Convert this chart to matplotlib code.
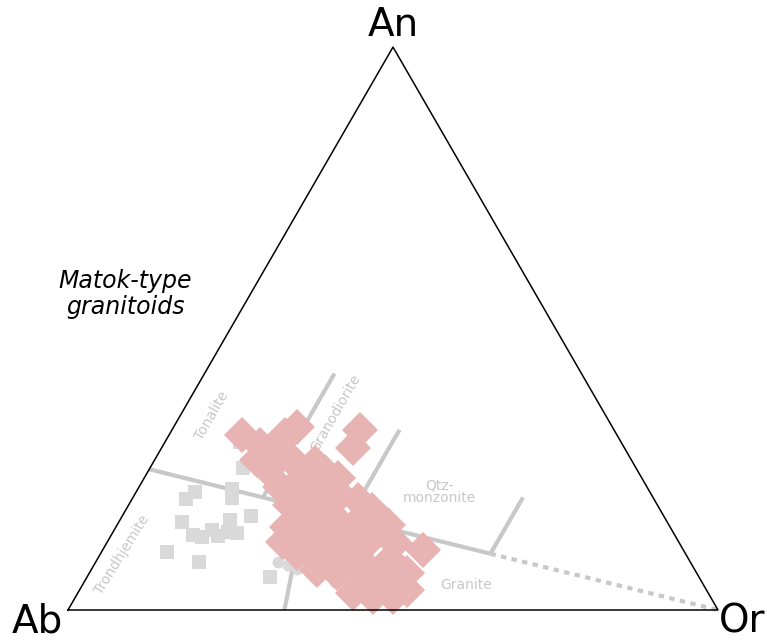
import numpy as np
import matplotlib.pyplot as plt

# ternary data, percent (An, Or); Ab = 100 - An - Or
sq_an = [29.8, 25.2, 21.0, 19.7, 21.5, 19.9, 16.7, 15.6, 13.3, 13.0, 14.2, 13.1,
         16.0, 13.9, 13.7, 10.3, 8.5, 5.9]
sq_or = [11.6, 14.3, 9.0, 8.3, 14.5, 15.3, 19.8, 9.7, 12.6, 14.1, 15.1, 16.5,
         16.9, 17.7, 19.2, 10.1, 15.9, 28.1]

ci_an = [8.5, 8.0, 7.3, 15.1, 5.0]
ci_or = [28.1, 29.8, 31.6, 25.4, 38.6]

mt_an = [31.1, 32.5, 32.0, 28.8, 29.3, 29.7, 31.1, 26.6, 24.9, 26.6, 23.4, 24.5,
         24.9, 21.9, 19.5, 15.1, 10.7, 14.7, 12.1, 10.1, 7.1, 3.0, 2.3, 2.3,
         3.6, 6.6, 8.9, 4.8, 6.6, 10.1, 12.4, 16.0, 16.0, 13.7, 16.0, 18.3,
         21.3, 21.3, 20.4, 18.7, 11.5, 13.3, 8.9, 6.2, 12.4, 9.8, 9.8, 6.2,
         5.3, 23.1, 27.5, 18.7, 17.8, 8.9, 26.1, 11.9]
mt_or = [11.2, 19.0, 28.9, 29.4, 14.9, 17.5, 17.8, 15.8, 18.3, 21.2, 29.8, 27.3,
         24.5, 21.7, 34.9, 41.7, 49.3, 26.4, 27.0, 30.2, 34.8, 42.3, 45.8, 48.9,
         50.4, 48.9, 45.1, 44.1, 38.1, 37.9, 40.3, 36.9, 33.4, 31.9, 28.2, 30.1,
         25.0, 28.1, 31.6, 27.9, 34.6, 36.7, 40.5, 44.9, 29.5, 32.3, 36.9, 41.1,
         46.9, 24.1, 18.1, 24.8, 37.9, 35.9, 25.0, 44.4]

# field boundaries (An, Or) in percent
fields = [
    ([25, 10], [0, 60]),      # main divide
    ([20, 42], [20, 20]),     # tonalite / granodiorite
    ([0, 18.2], [33.3, 27.3]),  # trondhjemite / granite
    ([16.25, 32], [35, 35]),  # granodiorite / qtz-monzonite
    ([10, 20], [60, 60]),     # qtz-monzonite / granite
]
dashed = ([10, 0], [60, 100])

labels = ['Tonalite', 'Granodiorite', 'Trondhjemite', 'Qtz-\nmonzonite', 'Granite']
lab_an = [34.6, 35.0, 9.8, 21.0, 4.4]
lab_or = [4.9, 23.6, 3.4, 46.7, 59.0]
lab_rot = [60, 60, 58, 0, 0]


def to_xy(an, or_):
    an = np.asarray(an) / 100.0
    or_ = np.asarray(or_) / 100.0
    return or_ + an / 2, an * np.sqrt(3) / 2


fig = plt.figure(figsize=(7.67, 6.41), dpi=100)
ax = fig.add_axes([0, 0, 1, 1])
ax.set_xlim(-68 / 650, 699 / 650)
ax.set_ylim(-31 / 650, 610 / 650)
ax.axis('off')

grey = '#c8c8c8'
for an, o in fields:
    x, y = to_xy(an, o)
    ax.plot(x, y, color=grey, lw=3, solid_capstyle='butt', zorder=1)
x, y = to_xy(*dashed)
ax.plot(x, y, color=grey, lw=3, ls=(0, (1.3, 1.3)), zorder=1)

for t, a, o, r in zip(labels, lab_an, lab_or, lab_rot):
    x, y = to_xy(a, o)
    ax.text(x, y, t, color=grey, fontsize=10, rotation=r, ha='center', va='center',
            linespacing=0.9, zorder=1)

x, y = to_xy(sq_an, sq_or)
ax.plot(x, y, 's', color='#d9d9d9', ms=9.4, mew=0, zorder=2)
x, y = to_xy(ci_an, ci_or)
ax.plot(x, y, 'o', color='#d9d9d9', ms=8.6, mew=0, zorder=2)
x, y = to_xy(mt_an, mt_or)
ax.plot(x, y, 'D', color='#e8b3b3', ms=18.5, mew=0, zorder=3)

# triangle
tx, ty = to_xy([0, 0, 100, 0], [0, 100, 0, 0])
ax.plot(tx, ty, color='black', lw=1.1, zorder=4)

ax.text(0.5, 0.9, 'An', fontsize=28, ha='center', va='center')
ax.text(-0.047, -0.018, 'Ab', fontsize=28, ha='center', va='center')
ax.text(1.037, -0.018, 'Or', fontsize=28, ha='center', va='center')

ax.text(0.0877, 0.486, 'Matok-type\ngranitoids', fontsize=17, style='italic',
        ha='center', va='center', linespacing=1.1)

fig.savefig('out.png', dpi=100)
